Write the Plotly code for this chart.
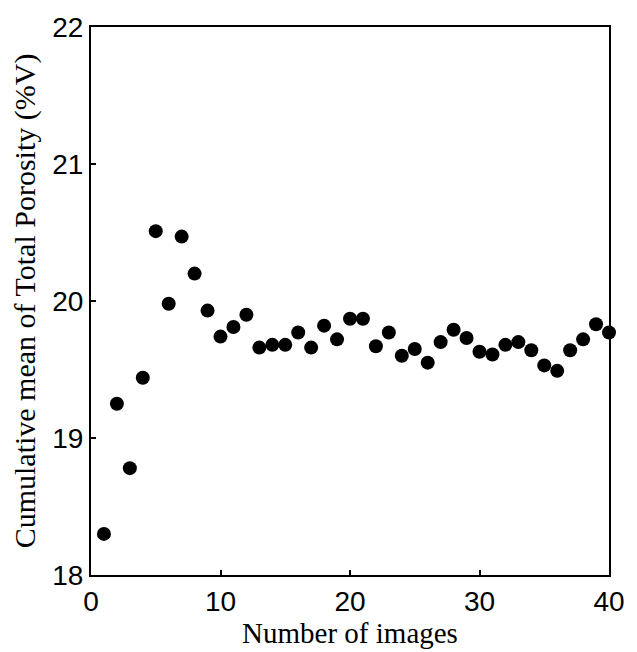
import plotly.graph_objects as go

n_images = list(range(1, 41))
cum_mean = [18.30, 19.25, 18.78, 19.44, 20.51, 19.98, 20.47, 20.20, 19.93, 19.74,
            19.81, 19.90, 19.66, 19.68, 19.68, 19.77, 19.66, 19.82, 19.72, 19.87,
            19.87, 19.67, 19.77, 19.60, 19.65, 19.55, 19.70, 19.79, 19.73, 19.63,
            19.61, 19.68, 19.70, 19.64, 19.53, 19.49, 19.64, 19.72, 19.83, 19.77]

x_ticks = [0, 10, 20, 30, 40]
y_ticks = [18, 19, 20, 21, 22]

fig = go.Figure()
fig.add_trace(go.Scatter(
    x=n_images, y=cum_mean, mode="markers",
    marker=dict(color="black", size=14, line=dict(width=0)),
    cliponaxis=False, showlegend=False,
))

axis_common = dict(
    showgrid=False, zeroline=False, showline=True, linecolor="black", linewidth=2,
    mirror=True, ticks="inside", ticklen=5, tickwidth=2, tickcolor="black",
    tickfont=dict(family="Liberation Sans, Arial", size=28, color="black"),
)

fig.update_layout(
    width=637, height=652,
    margin=dict(l=91, r=19, t=20, b=77),
    paper_bgcolor="white", plot_bgcolor="white",
    xaxis=dict(range=[0, 40], tickvals=x_ticks,
               title=dict(text="Number of images", standoff=2,
                          font=dict(family="Liberation Serif, Times New Roman", size=29, color="black")),
               **axis_common),
    yaxis=dict(range=[18, 22], tickvals=y_ticks,
               title=dict(text="Cumulative mean of Total Porosity (%V)", standoff=8,
                          font=dict(family="Liberation Serif, Times New Roman", size=30, color="black")),
               **axis_common),
)

fig.write_html("out.html")
